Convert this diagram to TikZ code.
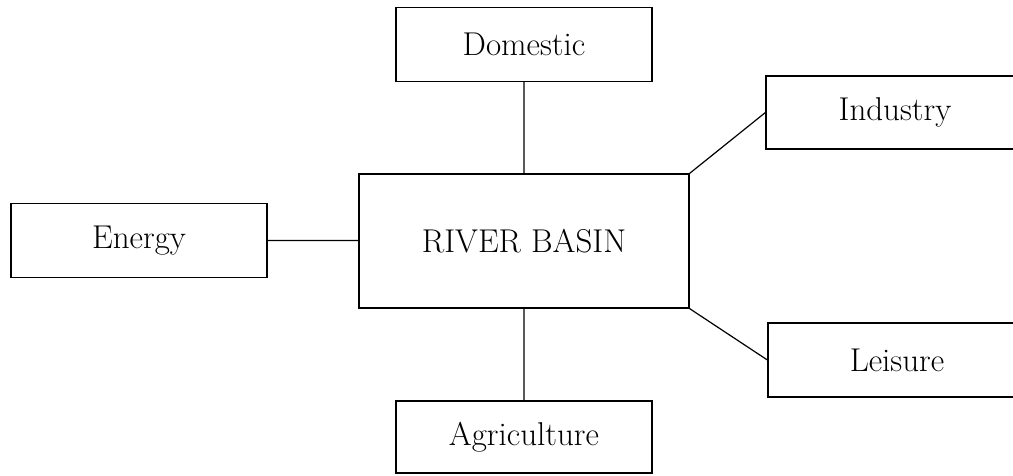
\documentclass[tikz,border=0pt]{standalone}
\usetikzlibrary{positioning}

\tikzset{
    sector/.style={draw, rectangle, line width=1.2pt, inner sep=0pt,
        minimum width=256pt, minimum height=74pt,
        font=\fontsize{33}{39}\selectfont},
    basin/.style={sector, minimum width=330pt, minimum height=134pt}
}

\begin{document}
\begin{tikzpicture}[x=1pt, y=-1pt, line width=1.2pt]
    \useasboundingbox (0,0) rectangle (1013,475);
    \clip (0,0) rectangle (1013,475);
    \node[basin] (rb) at (524,241) {RIVER BASIN};
    \node[sector] (dom) at (524,44.5) {Domestic};
    \node[sector, minimum width=258pt, minimum height=73pt] (ind) at (895,112.5) {Industry};
    \node[sector] (en) at (139,240.5) {Energy};
    \node[sector, minimum width=258pt] (lei) at (897,360) {Leisure};
    \node[sector, minimum height=72pt] (agr) at (524,437) {Agriculture};
        \draw
        (dom.south) -- (rb.north)
        (rb.north east) -- (ind.west)
        (en.east) -- (rb.west |- en.east)
        (rb.south east) -- (lei.west)
        (rb.south) -- (agr.north);

\end{tikzpicture}
\end{document}
